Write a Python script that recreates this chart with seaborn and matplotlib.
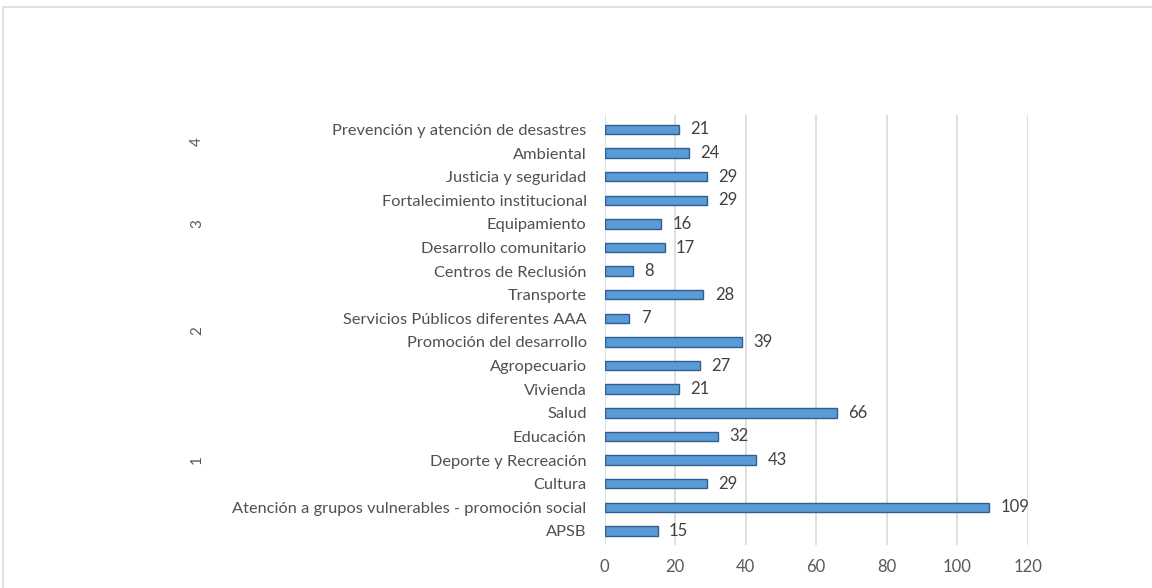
import matplotlib
matplotlib.use("Agg")
import matplotlib.pyplot as plt
import matplotlib.transforms as mtransforms
import seaborn as sns
import pandas as pd

categories = [
    "Prevención y atención de desastres",
    "Ambiental",
    "Justicia y seguridad",
    "Fortalecimiento institucional",
    "Equipamiento",
    "Desarrollo comunitario",
    "Centros de Reclusión",
    "Transporte",
    "Servicios Públicos diferentes AAA",
    "Promoción del desarrollo",
    "Agropecuario",
    "Vivienda",
    "Salud",
    "Educación",
    "Deporte y Recreación",
    "Cultura",
    "Atención a grupos vulnerables - promoción social",
    "APSB",
]
values = [21, 24, 29, 29, 16, 17, 8, 28, 7, 39, 27, 21, 66, 32, 43, 29, 109, 15]
group_labels = ["4", "3", "2", "1"]
group_members = [
    ["Prevención y atención de desastres", "Ambiental"],
    ["Justicia y seguridad", "Fortalecimiento institucional", "Equipamiento",
     "Desarrollo comunitario", "Centros de Reclusión"],
    ["Transporte", "Servicios Públicos diferentes AAA", "Promoción del desarrollo",
     "Agropecuario"],
    ["Vivienda", "Salud", "Educación", "Deporte y Recreación", "Cultura",
     "Atención a grupos vulnerables - promoción social", "APSB"],
]
x_ticks = [0, 20, 40, 60, 80, 100, 120]

sns.set_theme(style="white")
plt.rcParams["font.family"] = ["Lato", "DejaVu Sans"]

df = pd.DataFrame({"cat": categories, "val": values})

fig = plt.figure(figsize=(11.52, 5.88), dpi=100)
fig.patch.set_facecolor("white")
ax = fig.add_axes([0.525, 0.073, 0.367, 0.731])

sns.barplot(data=df, y="cat", x="val", orient="h", order=categories,
            color="#5B9BD5", edgecolor="#2F5F8F", linewidth=1.0,
            width=0.40, saturation=1, ax=ax, zorder=3)

ax.set_xlim(0, 120)
ax.set_ylim(len(categories) - 0.4, -0.6)
ax.set_xticks(x_ticks)
ax.set_xticklabels([str(t) for t in x_ticks])
ax.set_xlabel("")
ax.set_ylabel("")
for s in ax.spines.values():
    s.set_visible(False)
ax.grid(axis="x", color="#D9D9D9", linewidth=1.2, zorder=0)
ax.grid(axis="y", visible=False)
ax.tick_params(axis="x", length=0, pad=10, labelsize=12, labelcolor="#595959")
ax.tick_params(axis="y", length=0, pad=13, labelsize=11.8, labelcolor="#505050")

for i, v in enumerate(values):
    ax.text(v + 3.2, i, str(v), va="center", ha="left",
            fontsize=12, color="#404040")

trans = mtransforms.blended_transform_factory(fig.transFigure, ax.transData)
for lab, members in zip(group_labels, group_members):
    idx = [categories.index(m) for m in members]
    yc = (min(idx) + max(idx)) / 2
    ax.text(0.171, yc, lab, rotation=90, ha="center", va="center",
            fontsize=11, color="#595959", transform=trans)

fig.patches.append(plt.Rectangle((0.003, -0.01), 1.1, 0.998,
                                 transform=fig.transFigure, fill=False,
                                 edgecolor="#D9D9D9", linewidth=1.2))

fig.savefig("out.png", dpi=100, facecolor="white")
